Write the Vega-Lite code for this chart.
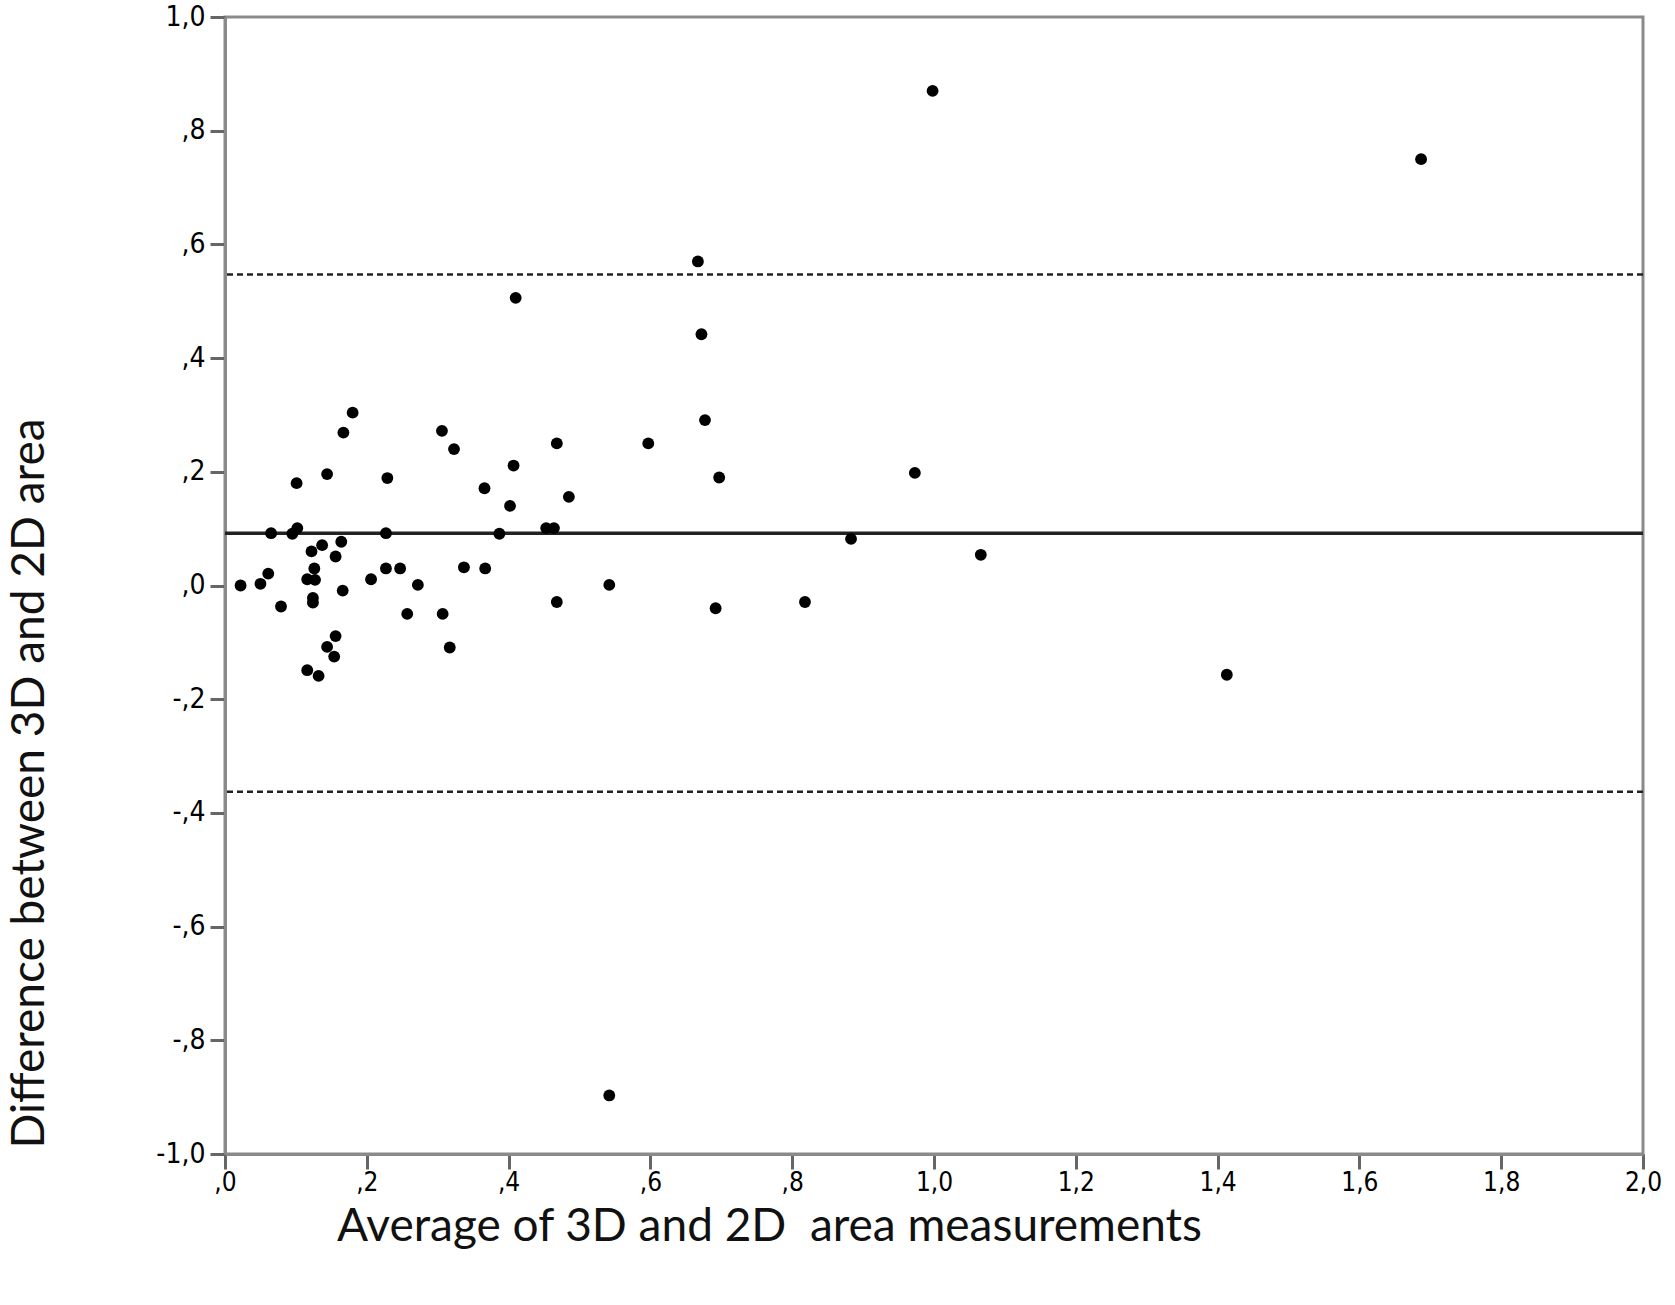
{
  "$schema": "https://vega.github.io/schema/vega-lite/v6.json",
  "width": 1418,
  "height": 1137,
  "autosize": {"type": "none"},
  "padding": {"left": 225, "top": 17, "right": 32, "bottom": 151},
  "background": "white",
  "config": {
    "view": {"stroke": "#8a8a8a", "strokeWidth": 3},
    "axis": {
      "grid": false,
      "domainColor": "#8a8a8a",
      "domainWidth": 3,
      "labelFont": "DejaVu Sans Condensed, Liberation Sans Narrow, sans-serif",
      "labelColor": "#000000",
      "titleFont": "Lato",
      "titleFontSize": 46,
      "titleFontWeight": "normal",
      "titleColor": "#111111"
    }
  },
  "datasets": {
    "points": [
      {"avg": 0.998, "diff": 0.870}, {"avg": 1.687, "diff": 0.750}, {"avg": 0.667, "diff": 0.570},
      {"avg": 0.410, "diff": 0.506}, {"avg": 0.672, "diff": 0.442}, {"avg": 0.180, "diff": 0.304},
      {"avg": 0.167, "diff": 0.269}, {"avg": 0.306, "diff": 0.272}, {"avg": 0.323, "diff": 0.240},
      {"avg": 0.468, "diff": 0.250}, {"avg": 0.597, "diff": 0.250}, {"avg": 0.677, "diff": 0.291},
      {"avg": 0.407, "diff": 0.211}, {"avg": 0.144, "diff": 0.196}, {"avg": 0.101, "diff": 0.180},
      {"avg": 0.229, "diff": 0.189}, {"avg": 0.697, "diff": 0.190}, {"avg": 0.973, "diff": 0.198},
      {"avg": 0.366, "diff": 0.171}, {"avg": 0.485, "diff": 0.156}, {"avg": 0.402, "diff": 0.140},
      {"avg": 0.065, "diff": 0.092}, {"avg": 0.095, "diff": 0.091}, {"avg": 0.102, "diff": 0.101},
      {"avg": 0.227, "diff": 0.092}, {"avg": 0.387, "diff": 0.091}, {"avg": 0.453, "diff": 0.101},
      {"avg": 0.464, "diff": 0.101}, {"avg": 0.883, "diff": 0.082}, {"avg": 1.066, "diff": 0.054},
      {"avg": 0.164, "diff": 0.077}, {"avg": 0.137, "diff": 0.071}, {"avg": 0.122, "diff": 0.060},
      {"avg": 0.156, "diff": 0.051}, {"avg": 0.227, "diff": 0.030}, {"avg": 0.247, "diff": 0.030},
      {"avg": 0.337, "diff": 0.032}, {"avg": 0.367, "diff": 0.030}, {"avg": 0.061, "diff": 0.021},
      {"avg": 0.126, "diff": 0.030}, {"avg": 0.116, "diff": 0.011}, {"avg": 0.127, "diff": 0.010},
      {"avg": 0.022, "diff": 0.000}, {"avg": 0.050, "diff": 0.003}, {"avg": 0.206, "diff": 0.011},
      {"avg": 0.272, "diff": 0.001}, {"avg": 0.166, "diff": -0.009}, {"avg": 0.124, "diff": -0.022},
      {"avg": 0.124, "diff": -0.030}, {"avg": 0.079, "diff": -0.037}, {"avg": 0.257, "diff": -0.050},
      {"avg": 0.307, "diff": -0.050}, {"avg": 0.468, "diff": -0.029}, {"avg": 0.156, "diff": -0.089},
      {"avg": 0.144, "diff": -0.108}, {"avg": 0.154, "diff": -0.125}, {"avg": 0.317, "diff": -0.109},
      {"avg": 0.116, "diff": -0.149}, {"avg": 0.132, "diff": -0.159}, {"avg": 0.542, "diff": 0.001},
      {"avg": 0.692, "diff": -0.040}, {"avg": 0.818, "diff": -0.029}, {"avg": 1.413, "diff": -0.157},
      {"avg": 0.542, "diff": -0.897}
    ],
    "meanline": [{"level": 0.092}],
    "limits": [{"level": 0.547}, {"level": -0.363}]
  },
  "layer": [
    {
      "data": {"name": "limits"},
      "mark": {"type": "rule", "color": "#222222", "strokeWidth": 2.5, "strokeDash": [6, 4]},
      "encoding": {
        "y": {"field": "level", "type": "quantitative", "scale": {"domain": [-1, 1]}}
      }
    },
    {
      "data": {"name": "meanline"},
      "mark": {"type": "rule", "color": "#222222", "strokeWidth": 3.5},
      "encoding": {
        "y": {"field": "level", "type": "quantitative"}
      }
    },
    {
      "data": {"name": "points"},
      "mark": {"type": "point", "filled": true, "color": "#000000", "opacity": 1, "size": 140, "shape": "circle"},
      "encoding": {
        "x": {
          "field": "avg", "type": "quantitative",
          "scale": {"domain": [0, 2], "nice": false, "zero": false},
          "axis": {
            "title": "Average of 3D and 2D\u00a0 area measurements",
            "values": [0, 0.2, 0.4, 0.6, 0.8, 1.0, 1.2, 1.4, 1.6, 1.8, 2.0],
            "labelExpr": "replace(replace(replace(format(datum.value, '.1f'), '\u2212', '-'), '0.', ','), '.', ',')",
            "ticks": true, "tickColor": "#666666", "tickWidth": 3, "tickSize": 15, "tickOpacity": 1,
            "labelFontSize": 26,
            "labelPadding": 0,
            "titleX": 544, "titleY": 50, "titleAlign": "center", "titleBaseline": "top",
            "labelFlush": false
          }
        },
        "y": {
          "field": "diff", "type": "quantitative",
          "scale": {"domain": [-1, 1], "nice": false, "zero": false},
          "axis": {
            "title": "Difference between 3D and 2D area",
            "values": [-1, -0.8, -0.6, -0.4, -0.2, 0, 0.2, 0.4, 0.6, 0.8, 1.0],
            "labelExpr": "replace(replace(replace(format(datum.value, '.1f'), '\u2212', '-'), '0.', ','), '.', ',')",
            "ticks": true, "tickColor": "#666666", "tickWidth": 3, "tickSize": 15, "tickOpacity": 1,
            "labelFontSize": 28,
            "labelPadding": 5,
            "titleX": -196, "titleY": 766, "titleAngle": -90, "titleAlign": "center", "titleBaseline": "middle",
            "labelFlush": false
          }
        }
      }
    }
  ]
}
